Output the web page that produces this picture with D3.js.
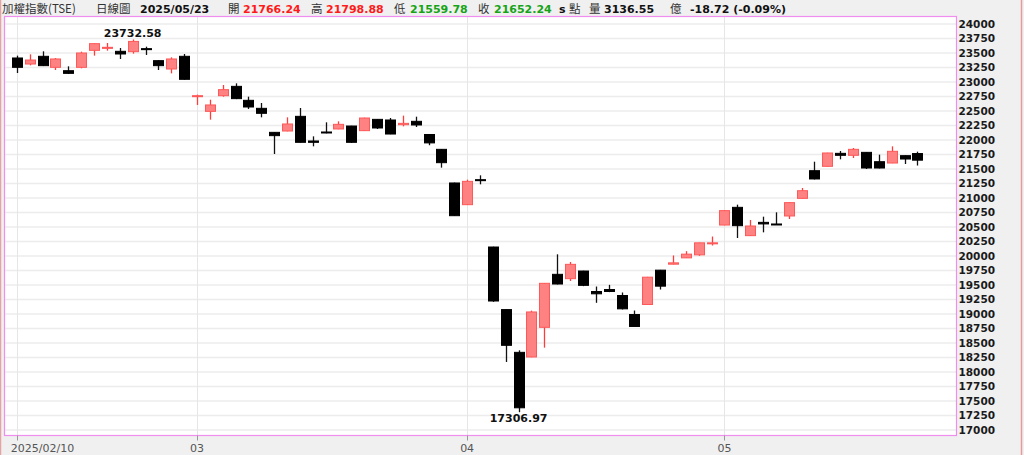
<!DOCTYPE html>
<html><head><meta charset="utf-8">
<script src="https://cdn.jsdelivr.net/npm/d3@7/dist/d3.min.js"></script>
<style>
html,body{margin:0;padding:0;background:#f0f0f0;}
svg{display:block;}
</style></head>
<body>
<svg id="chart" width="1024" height="455"></svg>
<script>
const dates = [
 "2025/02/10","02/11","02/12","02/13","02/14","02/17","02/18","02/19","02/20","02/21","02/24","02/25","02/26","02/27",
 "03/03","03/04","03/05","03/06","03/07","03/10","03/11","03/12","03/13","03/14","03/17","03/18","03/19","03/20","03/21","03/24","03/25","03/26","03/27","03/28","03/31",
 "04/01","04/02","04/07","04/08","04/09","04/10","04/11","04/14","04/15","04/16","04/17","04/18","04/21","04/22","04/23","04/24","04/25","04/28","04/29","04/30",
 "05/02","05/05","05/06","05/07","05/08","05/09","05/12","05/13","05/14","05/15","05/16","05/19","05/20","05/21","05/22","05/23"
];
const open  = [23414,23310,23443,23253,23195,23253,23546,23580,23529,23523,23575,23368,23224,23443,
 22747,22494,22764,22925,22684,22546,22132,22155,22408,21983,22138,22190,22241,22161,22356,22345,22264,22322,22095,21839,21259,
 20885,21316,20155,19076,18339,18259,18770,19684,19609,19741,19388,19422,19319,18991,19164,19756,19859,19968,20020,20210,
 20534,20839,20351,20580,20552,20690,20994,21471,21546,21770,21736,21787,21626,21603,21730,21766.24];
const high  = [23454,23477,23529,23414,23270,23523,23665,23672,23586,23732.58,23609,23375,23425,23483,
 22782,22695,22948,22977,22747,22638,22135,22391,22552,22063,22305,22322,22245,22385,22360,22379,22420,22402,22098,21845,21265,
 21316,21391,20160,19080,18374,19058,19535,20029,19897,19745,19474,19503,19371,19060,19640,19760,20009,20083,20230,20336,
 20785,20885,20621,20678,20753,20925,21172,21626,21780,21810,21862,21790,21747,21891,21735,21798.88];
const low   = [23155,23287,23275,23207,23138,23236,23454,23540,23397,23489,23466,23207,23149,23040,
 22604,22351,22747,22705,22535,22391,21759,22150,21955,21891,22115,22185,21948,22155,22190,22100,22236,22224,21910,21523,20690,
 20880,21236,19210,18173,17306.97,18255,18420,19510,19569,19480,19193,19377,19078,18780,19160,19422,19855,19965,20003,20181,
 20530,20310,20345,20408,20540,20638,20990,21320,21540,21667,21690,21500,21510,21600,21586,21559.78];
const close = [23253,23379,23282,23397,23149,23500,23661,23598,23483,23700,23563,23282,23397,23046,
 22764,22604,22868,22713,22569,22460,22075,22276,21960,21960,22121,22270,21960,22379,22207,22103,22287,22259,21950,21609,20695,
 21287,21305,19224,18460,17383,19035,19529,19517,19856,19494,19348,19388,19089,18785,19635,19480,19882,20032,20227,20227,
 20782,20523,20517,20553,20545,20920,21126,21328,21776,21736,21839,21517,21517,21805,21672,21652.24];
const yTicks = [17000,17250,17500,17750,18000,18250,18500,18750,19000,19250,19500,19750,20000,20250,20500,20750,21000,21250,21500,21750,22000,22250,22500,22750,23000,23250,23500,23750,24000];
const monthTickIdx = [0,14,35,55];
const monthTickLabels = ["2025/02/10","03","04","05"];
const headerParts = [
 {t:"加權指數(TSE)", c:"#333", w:"normal", x:2, f:"cjk"},
 {t:"日線圖", c:"#333", w:"normal", x:96, f:"cjk"},
 {t:"2025/05/23", c:"#111", w:"bold", x:140},
 {t:"開", c:"#333", w:"normal", x:228, f:"cjk"},
 {t:"21766.24", c:"#ff1a1a", w:"bold", x:243},
 {t:"高", c:"#333", w:"normal", x:311, f:"cjk"},
 {t:"21798.88", c:"#ff1a1a", w:"bold", x:326},
 {t:"低", c:"#333", w:"normal", x:394, f:"cjk"},
 {t:"21559.78", c:"#17a317", w:"bold", x:410},
 {t:"收", c:"#333", w:"normal", x:478, f:"cjk"},
 {t:"21652.24", c:"#17a317", w:"bold", x:494},
 {t:"s", c:"#111", w:"bold", x:559},
 {t:"點", c:"#333", w:"normal", x:569, f:"cjk"},
 {t:"量", c:"#333", w:"normal", x:589, f:"cjk"},
 {t:"3136.55", c:"#111", w:"bold", x:604},
 {t:"億", c:"#333", w:"normal", x:670, f:"cjk"},
 {t:"-18.72 (-0.09%)", c:"#111", w:"bold", x:690}
];

const svg = d3.select("#chart");
const L = 4.5, T = 16.5, R = 956.5, B = 435.5;
const x = d3.scaleLinear().domain([-1, 73]).range([4, 956]);
const y = d3.scaleLinear().domain([17000, 24000]).range([430, 24]);

// outer frame lines
svg.append("line").attr("x1",0.5).attr("x2",0.5).attr("y1",0).attr("y2",455).attr("stroke","#e4a4a4").attr("stroke-width",1.5);
svg.append("line").attr("x1",1021.5).attr("x2",1021.5).attr("y1",0).attr("y2",455).attr("stroke","#e89a9a").attr("stroke-width",1.5);

// plot background
svg.append("rect").attr("x",L).attr("y",T).attr("width",R-L).attr("height",B-T).attr("fill","#fff");

// horizontal grid
svg.append("g").selectAll("line").data(yTicks).join("line")
 .attr("x1",L).attr("x2",R).attr("y1",d=>y(d)).attr("y2",d=>y(d))
 .attr("stroke","#ececec").attr("stroke-width",1.5);
// vertical grid
svg.append("g").selectAll("line").data(monthTickIdx).join("line")
 .attr("x1",d=>Math.round(x(d))+0.5).attr("x2",d=>Math.round(x(d))+0.5).attr("y1",T).attr("y2",B)
 .attr("stroke","#e6e6e6").attr("stroke-width",1);

// plot border
svg.append("rect").attr("x",L).attr("y",T).attr("width",R-L).attr("height",B-T)
 .attr("fill","none").attr("stroke","#f08ef0").attr("stroke-width",1.2);

// y axis labels (right)
const yAxis = d3.axisRight(y).tickValues(yTicks).tickSize(0).tickPadding(2).tickFormat(d3.format("d"));
const ya = svg.append("g").attr("transform",`translate(${R},0)`).call(yAxis);
ya.select(".domain").remove();
ya.selectAll("text").attr("font-family","DejaVu Sans").attr("font-weight","bold").attr("font-size",10.5).attr("fill","#1a1a1a");

// x axis ticks
const xa = svg.append("g").attr("transform",`translate(0,${B})`);
xa.selectAll("line").data(monthTickIdx).join("line")
 .attr("x1",d=>Math.round(x(d))+0.5).attr("x2",d=>Math.round(x(d))+0.5).attr("y1",0).attr("y2",5)
 .attr("stroke","#999").attr("stroke-width",1);
xa.selectAll("text").data(monthTickIdx).join("text")
 .attr("x",(d,i)=> i===0 ? x(d)-6 : x(d))
 .attr("y",16)
 .attr("text-anchor",(d,i)=> i===0 ? "start" : "middle")
 .attr("font-family","DejaVu Sans").attr("font-size",11).attr("fill","#555")
 .text((d,i)=>monthTickLabels[i]);

// candles
const idx = d3.range(dates.length);
const bw = 10;
const cg = svg.append("g");
const isUp = i => close[i] >= open[i];
cg.selectAll("line.wick").data(idx).join("line").attr("class","wick")
 .attr("x1",i=>Math.round(x(i))+0.5).attr("x2",i=>Math.round(x(i))+0.5)
 .attr("y1",i=>y(high[i])).attr("y2",i=>y(low[i]))
 .attr("stroke",i=>isUp(i)?"#ff3c3c":"#111").attr("stroke-width",1.3);
cg.selectAll("rect.body").data(idx).join("rect").attr("class","body")
 .attr("x",i=>Math.round(x(i))+0.5-bw/2)
 .attr("width",bw)
 .attr("y",i=>y(Math.max(open[i],close[i])))
 .attr("height",i=>Math.max(1,Math.abs(y(open[i])-y(close[i]))))
 .attr("fill",i=>isUp(i)?"#ff8282":"#000")
 .attr("stroke",i=>isUp(i)?"#ff5858":"#000").attr("stroke-width",1);

// annotations: max high and min low
const iMax = d3.maxIndex(high), iMin = d3.minIndex(low);
svg.append("text").attr("x",x(iMax)).attr("y",y(high[iMax])-3).attr("text-anchor","middle")
 .attr("font-family","DejaVu Sans").attr("font-weight","bold").attr("font-size",11).attr("fill","#111")
 .text(d3.format(".2f")(high[iMax]));
svg.append("text").attr("x",x(iMin)).attr("y",y(low[iMin])+10).attr("text-anchor","middle")
 .attr("font-family","DejaVu Sans").attr("font-weight","bold").attr("font-size",11).attr("fill","#111")
 .text(d3.format(".2f")(low[iMin]));

// header
svg.append("g").selectAll("text").data(headerParts).join("text")
 .attr("x",d=>d.x).attr("y",13)
 .attr("font-family",d=>d.f==="cjk" ? "'Noto Sans CJK TC', 'DejaVu Sans'" : "DejaVu Sans")
 .attr("font-size",d=>d.f==="cjk"?11.5:11)
 .attr("font-weight",d=>d.w).attr("fill",d=>d.c)
 .text(d=>d.t);
</script>
</body></html>
